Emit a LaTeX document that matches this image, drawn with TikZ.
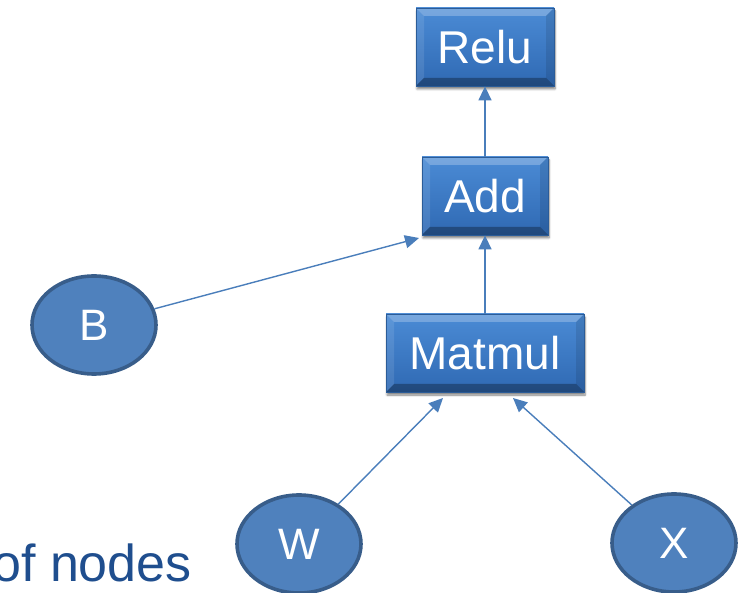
\documentclass[tikz,border=0pt]{standalone}
\usepackage{fontspec}
\setmainfont{Liberation Sans}
\usetikzlibrary{arrows.meta,shadows.blur,shapes.geometric}

\definecolor{boxtop}{HTML}{4B8BD5}
\definecolor{boxbot}{HTML}{2F69B3}
\definecolor{boxline}{HTML}{2B5C98}
\definecolor{nodefill}{HTML}{4F81BD}
\definecolor{nodeline}{HTML}{385D8A}
\definecolor{edgeblue}{HTML}{4A7EBB}
\definecolor{capblue}{HTML}{1F4E8E}

\tikzset{
  opbox/.style={
    rectangle, draw=boxline, line width=0.8pt,
    top color=boxtop, bottom color=boxbot,
    text=white, font=\fontsize{46}{46}\selectfont,
    inner sep=0pt, minimum height=78pt,
    blur shadow={shadow xshift=1pt, shadow yshift=-3pt,
                 shadow blur steps=6, shadow opacity=50},
    path picture={
      % bevelled rim: light on top, dark at the bottom
      \fill[white,opacity=0.25]
        (path picture bounding box.north west) -- (path picture bounding box.north east)
        -- ([shift={(-8pt,-8pt)}]path picture bounding box.north east)
        -- ([shift={(8pt,-8pt)}]path picture bounding box.north west) -- cycle;
      \fill[white,opacity=0.10]
        (path picture bounding box.north west) -- (path picture bounding box.south west)
        -- ([shift={(8pt,8pt)}]path picture bounding box.south west)
        -- ([shift={(8pt,-8pt)}]path picture bounding box.north west) -- cycle;
      \fill[black,opacity=0.10]
        (path picture bounding box.north east) -- (path picture bounding box.south east)
        -- ([shift={(-8pt,8pt)}]path picture bounding box.south east)
        -- ([shift={(-8pt,-8pt)}]path picture bounding box.north east) -- cycle;
      \fill[black,opacity=0.30]
        (path picture bounding box.south west) -- (path picture bounding box.south east)
        -- ([shift={(-8pt,8pt)}]path picture bounding box.south east)
        -- ([shift={(8pt,8pt)}]path picture bounding box.south west) -- cycle;
    }
  },
  varnode/.style={
    ellipse, draw=nodeline, line width=3.6pt, fill=nodefill,
    text=white, font=\fontsize{44}{44}\selectfont,
    inner sep=0pt, minimum width=124pt, minimum height=98pt
  },
  flow/.style={
    draw=edgeblue, line width=1.4pt,
    -{Triangle[length=14pt,width=13pt]}
  }
}

\begin{document}
\begin{tikzpicture}[x=1pt,y=-1pt]
  \useasboundingbox (0,0) rectangle (740,593);

  % operation boxes
  \node[opbox, minimum width=138pt] (relu)   at (485,47)  {Relu};
  \node[opbox, minimum width=126pt] (add)    at (485,196) {Add};
  \node[opbox, minimum width=198pt] (matmul) at (485,353) {Matmul};

  % inputs
  \node[varnode] (b) at (94,325)  {B};
  \node[varnode] (w) at (299,544) {W};
  \node[varnode] (x) at (674,543) {X};

  % caption fragment, running off the left edge
  \node[anchor=base east, text=capblue, font=\fontsize{52}{52}\selectfont, inner sep=0pt]
    (cap) at (192,582) {of nodes};

  % targets just below the Matmul box
  \coordinate (mmleft)  at (443,398);
  \coordinate (mmright) at (513,398);
  \coordinate (addcorner) at (419,238);

  % connectors
  \draw[flow] (add.north) -- (relu.south);
  \draw[flow] (matmul.north) -- (add.south);
  \draw[flow] (b) -- (addcorner);
  \draw[flow] (w) -- (mmleft);
  \draw[flow] (x) -- (mmright);
\end{tikzpicture}
\end{document}
